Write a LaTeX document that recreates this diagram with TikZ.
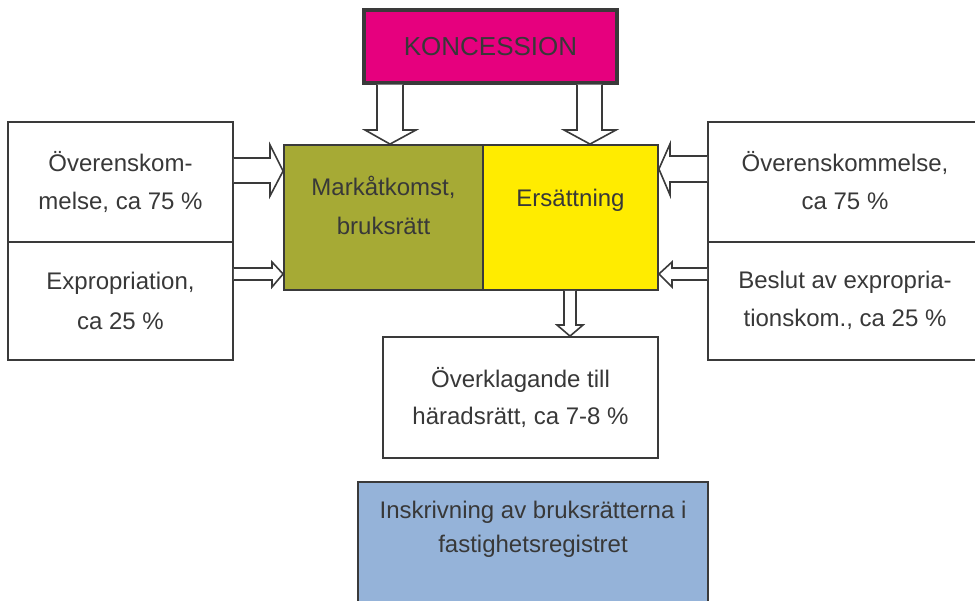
\documentclass[tikz,border=0pt]{standalone}
\usepackage{fontspec}
\setmainfont{Liberation Sans}
\begin{document}
\begin{tikzpicture}[x=1pt,y=-1pt,
  txt/.style={text=textgray,font=\fontsize{24}{33}\selectfont,align=center},
  box/.style={draw=linegray,line width=1.8pt,rectangle,inner sep=0pt},
  barrow/.style={draw=linegray,line width=1.6pt,fill=white,line join=miter}]
\definecolor{textgray}{HTML}{383838}
\definecolor{linegray}{HTML}{3A3A3A}
\definecolor{kmag}{HTML}{E6007E}
\definecolor{olive}{HTML}{A6AA35}
\definecolor{kyellow}{HTML}{FFEC00}
\definecolor{kblue}{HTML}{95B3D9}
\useasboundingbox (0,0) rectangle (975,601);

% boxes
\node[box,line width=3.2pt,fill=kmag,minimum width=253pt,minimum height=73pt] (kon) at (490.5,46.5) {};
\node[txt,font=\fontsize{26}{30}\selectfont] (konT) at (kon.center) {KONCESSION};

\node[box,fill=olive,minimum width=199pt,minimum height=145pt] (mL) at (383.5,217.5) {};
\node[box,fill=kyellow,minimum width=175pt,minimum height=145pt] (mR) at (570.5,217.5) {};
\node[txt,font=\fontsize{24}{39}\selectfont] (mLT) at (383.5,205) {Markåtkomst,\\bruksrätt};
\node[txt] (mRT) at (570.5,200) {Ersättning};

\node[box,minimum width=225pt,minimum height=120pt] (lT) at (120.5,182) {};
\node[box,minimum width=225pt,minimum height=118pt] (lB) at (120.5,301) {};
\node[txt,font=\fontsize{24}{38}\selectfont] at (lT.center) {Överenskom-\\melse, ca 75 \%};
\node[txt,font=\fontsize{24}{40}\selectfont] at (lB.center) {Expropriation,\\ca 25 \%};

\node[box,minimum width=274pt,minimum height=120pt] (rT) at (845,182) {};
\node[box,minimum width=274pt,minimum height=118pt] (rB) at (845,301) {};
\node[txt,font=\fontsize{24}{38}\selectfont] at (845,181) {Överenskommelse,\\ca 75 \%};
\node[txt,font=\fontsize{24}{38}\selectfont] at (845,300) {Beslut av expropria-\\tionskom., ca 25 \%};

\node[box,fill=white,minimum width=275pt,minimum height=121pt] (ov) at (520.5,397.5) {};
\node[txt,font=\fontsize{24}{37}\selectfont] at (ov.center) {Överklagande till\\häradsrätt, ca 7-8 \%};

\node[box,fill=kblue,minimum width=350pt,minimum height=140pt] (ins) at (533,552) {};
\node[txt,font=\fontsize{24}{34}\selectfont] at (533,529) {Inskrivning av bruksrätterna i\\fastighetsregistret};

% block arrows (drawn from node to node)
% KONCESSION -> Markåtkomst
\draw[barrow] (377,0 |- kon.south) -- (377,130) -- (365,130) -- (390,0 |- mL.north) -- (416,130) -- (403,130) -- (403,0 |- kon.south);
% KONCESSION -> Ersättning
\draw[barrow] (577,0 |- kon.south) -- (577,130) -- (564,130) -- (590,0 |- mR.north) -- (616,130) -- (602,130) -- (602,0 |- kon.south);
% left top -> Markåtkomst
\draw[barrow] (lT.east |- 0,158) -- (270,158) -- (270,145) -- (mL.west |- 0,171) -- (270,196) -- (270,183) -- (lT.east |- 0,183);
% left bottom -> Markåtkomst
\draw[barrow] (lB.east |- 0,268) -- (272,268) -- (272,262) -- (mL.west |- 0,274) -- (272,287) -- (272,280) -- (lB.east |- 0,280);
% right top -> Ersättning
\draw[barrow] (rT.west |- 0,156) -- (670,156) -- (670,144) -- (mR.east |- 0,169) -- (670,195) -- (670,182) -- (rT.west |- 0,182);
% right bottom -> Ersättning
\draw[barrow] (rB.west |- 0,268) -- (672,268) -- (672,262) -- (mR.east |- 0,274) -- (672,287) -- (672,280) -- (rB.west |- 0,280);
% Ersättning -> Överklagande
\draw[barrow] (564,0 |- mR.south) -- (564,325) -- (557,325) -- (570,0 |- ov.north) -- (583,325) -- (576,325) -- (576,0 |- mR.south);
\end{tikzpicture}
\end{document}
